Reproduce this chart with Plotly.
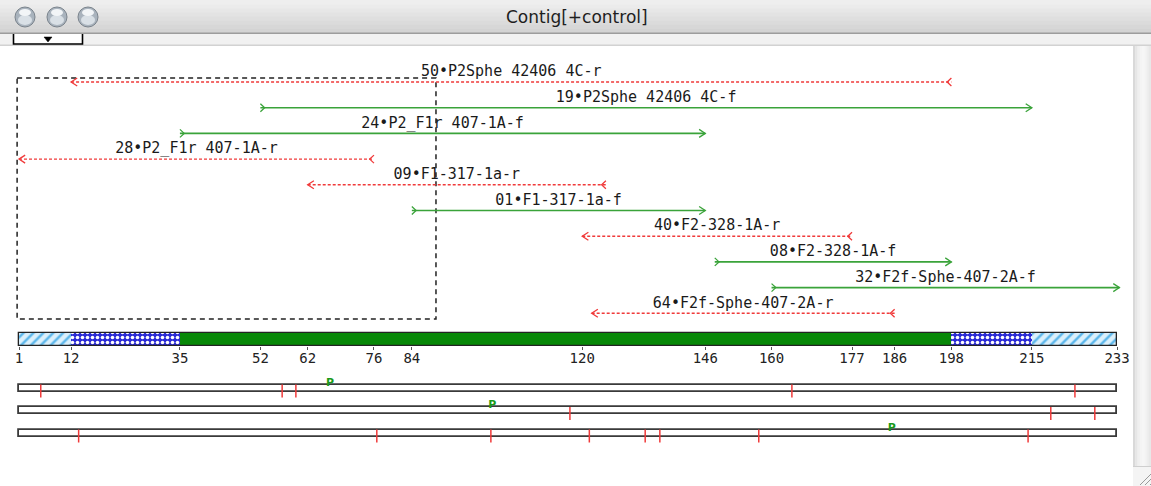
import plotly.graph_objects as go

W, H = 1151, 486

# ---------------- data ----------------
read_names = ["50•P2Sphe 42406 4C-r", "19•P2Sphe 42406 4C-f", "24•P2_F1r 407-1A-f",
              "28•P2_F1r 407-1A-r", "09•F1-317-1a-r", "01•F1-317-1a-f",
              "40•F2-328-1A-r", "08•F2-328-1A-f", "32•F2f-Sphe-407-2A-f",
              "64•F2f-Sphe-407-2A-r"]
read_start = [12, 52, 35, 1, 62, 84, 120, 148, 160, 122]
read_end = [198, 215, 146, 76, 125, 146, 177, 198, 233.5, 186]
read_strand = ["r", "f", "f", "r", "r", "f", "r", "f", "f", "r"]

cons_start = [1, 12, 35, 198, 215]
cons_end = [12, 35, 198, 215, 233]
cons_kind = ["hatch", "check", "solid", "check", "hatch"]

tick_vals = [1, 12, 35, 52, 62, 76, 84, 120, 146, 160, 177, 186, 198, 215, 233]

frame_stops = [
    [5.6, 56.6, 59.5, 164.3, 224.1],
    [117.4, 219.0, 228.3],
    [13.6, 76.6, 100.7, 121.5, 133.3, 136.4, 157.3, 214.2],
]
frame_P = [66.7, 101.0, 185.4]

title = "Contig[+control]"

# ---------------- layout helpers ----------------
K = 4.733  # pixels per base
X_LO = 1 - 19 / K
X_HI = 1 + (W - 19) / K
ROW0, ROWSTEP = 82, 25.7
CONS_Y, CONS_H = 339.5, 13
FRAME_Y0, FRAME_STEP, FRAME_H = 388.0, 22.5, 7

def px(x):
    return x / W

def py(y):
    return 1 - y / H

RED = "#f03a3a"
GREEN = "#3aa33a"
MONO = "DejaVu Sans Mono"

fig = go.Figure()

# consensus bar segments
styles = {
    "hatch": dict(shape="/", bgcolor="#dcf0fb", fgcolor="#5bb6ea", size=7, solidity=0.35),
    "check": dict(shape=".", bgcolor="#2b2bd6", fgcolor="#ffffff", size=5, solidity=0.4),
    "solid": None,
}
for s, e, k in zip(cons_start, cons_end, cons_kind):
    st = styles[k]
    marker = dict(color="#078807", line=dict(width=0))
    if st is not None:
        marker = dict(color=st["bgcolor"], line=dict(width=0),
                      pattern=dict(shape=st["shape"], bgcolor=st["bgcolor"],
                                   fgcolor=st["fgcolor"], size=st["size"],
                                   solidity=st["solidity"], fillmode="replace"))
    fig.add_trace(go.Bar(orientation="h", y=[CONS_Y], x=[e - s], base=[s],
                         width=CONS_H, marker=marker, hoverinfo="skip"))
# consensus outline
fig.add_trace(go.Bar(orientation="h", y=[CONS_Y], x=[cons_end[-1] - cons_start[0]],
                     base=[cons_start[0]], width=CONS_H,
                     marker=dict(color="rgba(0,0,0,0)", line=dict(color="#222", width=1.3)),
                     hoverinfo="skip"))

# three frame bars
frame_y = [FRAME_Y0 + i * FRAME_STEP for i in range(3)]
fig.add_trace(go.Bar(orientation="h", y=frame_y, x=[cons_end[-1] - cons_start[0]] * 3,
                     base=[cons_start[0]] * 3, width=FRAME_H,
                     marker=dict(color="white", line=dict(color="#3a3a3a", width=1.8)),
                     hoverinfo="skip"))
# red stop ticks
tx, ty = [], []
for fy, stops in zip(frame_y, frame_stops):
    top = fy - FRAME_H / 2
    for s in stops:
        tx += [s, s, None]
        ty += [top, top + 13, None]
fig.add_trace(go.Scatter(x=tx, y=ty, mode="lines", line=dict(color=RED, width=1.5),
                         hoverinfo="skip"))
# green P markers
fig.add_trace(go.Scatter(x=frame_P, y=[fy - FRAME_H / 2 - 1.5 for fy in frame_y],
                         mode="text", text=["<b>P</b>"] * 3,
                         textfont=dict(family="DejaVu Sans", size=11, color="#1a9a1a"),
                         hoverinfo="skip"))

# reads
for i, (name, s, e, strand) in enumerate(zip(read_names, read_start, read_end, read_strand)):
    y = ROW0 + i * ROWSTEP
    col = GREEN if strand == "f" else RED
    dash = "solid" if strand == "f" else "3px,2px"
    fig.add_trace(go.Scatter(x=[s, e], y=[y, y], mode="lines",
                             line=dict(color=col, width=1.6 if strand == "f" else 1.4, dash=dash),
                             hoverinfo="skip"))
    d = 1.3
    if strand == "f":
        ax = [e - d, e, e - d, None, s, s + 0.9, s, None]
    else:
        ax = [s + d, s, s + d, None, e, e - 0.9, e, None]
    ay = [y - 4, y, y + 4, None, y - 4, y, y + 4, None]
    fig.add_trace(go.Scatter(x=ax, y=ay, mode="lines", line=dict(color=col, width=1.3),
                             hoverinfo="skip"))

# read labels (drawn after lines)
fig.add_trace(go.Scatter(
    x=[(s + e) / 2 for s, e in zip(read_start, read_end)],
    y=[ROW0 + i * ROWSTEP - 9.5 for i in range(len(read_names))],
    mode="text", text=read_names,
    textfont=dict(family=MONO, size=15, color="#1a1a1a"), hoverinfo="skip"))

shapes = []
# dashed selection rectangle
shapes.append(dict(type="rect", xref="x", yref="y", x0=0.6, x1=89.1, y0=78, y1=319,
                   line=dict(color="#222", width=1.5, dash="5px,4px"),
                   fillcolor="rgba(0,0,0,0)", layer="below"))

# ---------------- window chrome ----------------
def prect(x0, y0, x1, y1, fill, line=None, lw=0):
    return dict(type="rect", xref="paper", yref="paper", x0=px(x0), x1=px(x1),
                y0=py(y1), y1=py(y0), fillcolor=fill,
                line=dict(color=line or fill, width=lw), layer="above")

# title bar gradient
bands = ["#eeeeee", "#ebebeb", "#e7e7e7", "#e3e3e3", "#dfdfdf", "#dbdbdb", "#d7d7d7", "#d3d3d3"]
bh = 33 / len(bands)
for j, c in enumerate(bands):
    shapes.append(prect(0, j * bh, W, (j + 1) * bh + 0.5, c))
shapes.append(prect(0, 32.5, W, 34, "#9c9c9c"))
shapes.append(prect(0, 34, W, 45, "#f1f1f1"))
shapes.append(prect(0, 44.5, W, 46, "#d2d2d2"))
# popup control
shapes.append(prect(13, 34, 83, 44, "#ffffff"))
shapes.append(dict(type="path", xref="paper", yref="paper", layer="above",
                   path="M %f %f L %f %f L %f %f L %f %f" % (
                       px(13.5), py(34), px(13.5), py(44), px(82.5), py(44), px(82.5), py(34)),
                   line=dict(color="#000", width=1.6)))
shapes.append(dict(type="path", xref="paper", yref="paper", layer="above",
                   path="M %f %f L %f %f L %f %f Z" % (px(44), py(37), px(52), py(37), px(48), py(42)),
                   fillcolor="#000", line=dict(color="#000", width=0.5)))
# graphite window buttons
for cx in [25, 57, 88]:
    shapes.append(dict(type="circle", xref="paper", yref="paper", layer="above",
                       x0=px(cx - 10), x1=px(cx + 10), y0=py(27), y1=py(7),
                       fillcolor="#a9b3bd", line=dict(color="#7a838c", width=1)))
    shapes.append(dict(type="circle", xref="paper", yref="paper", layer="above",
                       x0=px(cx - 7), x1=px(cx + 7), y0=py(25), y1=py(15),
                       fillcolor="#d9e0e6", line=dict(width=0)))
    shapes.append(dict(type="circle", xref="paper", yref="paper", layer="above",
                       x0=px(cx - 6), x1=px(cx + 6), y0=py(16), y1=py(9),
                       fillcolor="#f2f5f7", line=dict(width=0)))
# scrollbar
sb = ["#d9d9d9", "#e6e6e6", "#efefef", "#f4f4f4", "#f6f6f6", "#f3f3f3", "#eeeeee", "#e8e8e8"]
sw = 18 / len(sb)
for j, c in enumerate(sb):
    shapes.append(prect(1133 + j * sw, 46, 1133 + (j + 1) * sw + 0.3, H, c))
shapes.append(prect(1133, 467, W, H, "#f4f4f4"))
shapes.append(prect(1133, 466, W, 467, "#cfcfcf"))
for o in [0, 5, 10]:
    shapes.append(dict(type="line", xref="paper", yref="paper", layer="above",
                       x0=px(1140 + o), y0=py(485), x1=px(W), y1=py(474 + o),
                       line=dict(color="#9a9a9a", width=1)))

annotations = [dict(text=title, xref="paper", yref="paper", x=px(577), y=py(17),
                    showarrow=False, xanchor="center", yanchor="middle",
                    font=dict(family="DejaVu Sans", size=17, color="#1e1e1e"))]

fig.update_layout(
    width=W, height=H, margin=dict(l=0, r=0, t=0, b=0),
    paper_bgcolor="white", plot_bgcolor="white",
    showlegend=False, barmode="overlay", bargap=0,
    shapes=shapes, annotations=annotations,
    xaxis=dict(range=[X_LO, X_HI], anchor="free", position=py(346),
               tickmode="array", tickvals=tick_vals, ticktext=[str(v) for v in tick_vals],
               ticks="outside", ticklen=3, tickwidth=1, tickcolor="#555",
               ticklabelstandoff=-4,
               showline=False, showgrid=False, zeroline=False,
               tickfont=dict(family=MONO, size=14, color="#222")),
    yaxis=dict(range=[H, 0], visible=False, showgrid=False, zeroline=False),
)

fig.write_html("out.html")
